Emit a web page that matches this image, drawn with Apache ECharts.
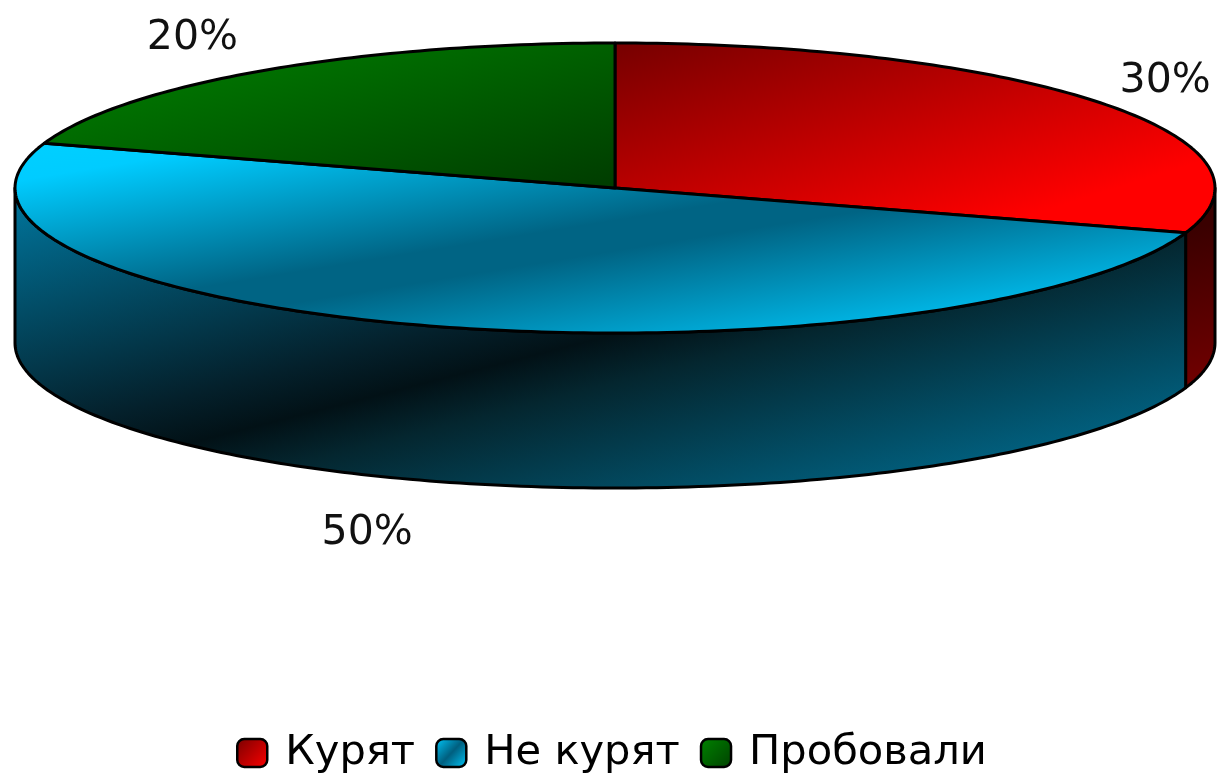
<!DOCTYPE html>
<html><head><meta charset="utf-8">
<style>html,body{margin:0;padding:0;background:#fff}#c{width:1217px;height:780px}</style>
<script src="https://cdn.jsdelivr.net/npm/echarts@6/dist/echarts.min.js"></script>
</head><body><div id="c"></div>
<script>
const categories = ['Курят', 'Не курят', 'Пробовали'];
const shares = [30, 50, 20];
const labels = ['30%', '50%', '20%'];

const total = shares.reduce((a, b) => a + b, 0);
const disc = { cx: 615, cy: 188, rx: 600, ry: 145, depth: 155 };
const labelReach = [[680, 182], [802, 363], [719, 185]];
const G = (x, y, x2, y2, stops) => new echarts.graphic.LinearGradient(x, y, x2, y2,
  stops.map(c => ({ offset: c[0], color: c[1] })), true);
const topFill = [
  G(615, 43, 724, 388, [[0, '#760000'], [0.8, '#ff0000'], [1, '#ff0000']]),
  G(15, 143, 75, 513, [[0, '#00d0ff'], [0.1, '#00ccff'], [0.46, '#006484'], [0.54, '#006484'], [0.85, '#00b8e8'], [1, '#00ccff']]),
  G(45, 43, 114, 315, [[0, '#008400'], [1, '#003c00']])
];
const sideFill = [
  G(1183, 230, 1215, 385, [[0, '#3a0000'], [1, '#720000']]),
  G(15, 188, 159, 751, [[0, '#0078a0'], [0.42, '#04202b'], [0.5, '#021116'], [0.58, '#04262f'], [1, '#0078a0']]),
  null
];
const legendFill = [
  new echarts.graphic.LinearGradient(0, 0, 1, 1, [{offset:0,color:'#760000'},{offset:1,color:'#ff0000'}]),
  new echarts.graphic.LinearGradient(0, 0, 1, 1, [{offset:0,color:'#00ccff'},{offset:0.5,color:'#005f7f'},{offset:1,color:'#00ccff'}]),
  new echarts.graphic.LinearGradient(0, 0, 1, 1, [{offset:0,color:'#008400'},{offset:1,color:'#004000'}])
];

function pt(deg, drop) {
  const a = deg * Math.PI / 180;
  return [disc.cx + disc.rx * Math.sin(a), disc.cy - disc.ry * Math.cos(a) + (drop || 0)];
}
function arc(from, to, drop) {
  const n = Math.max(2, Math.ceil(Math.abs(to - from)));
  const out = [];
  for (let i = 0; i <= n; i++) out.push(pt(from + (to - from) * i / n, drop));
  return out;
}
function renderSlice(params, api) {
  const i = params.seriesIndex;
  const before = shares.slice(0, i).reduce((a, b) => a + b, 0);
  const start = before / total * 360;
  const end = start + api.value(0) / total * 360;
  const children = [];
  const stroke = { stroke: '#000', lineWidth: 3, lineJoin: 'round' };
  const from = Math.max(start, 90), to = Math.min(end, 270);
  if (from < to && sideFill[i]) {
    children.push({
      type: 'polygon',
      shape: { points: arc(from, to, 0).concat(arc(to, from, disc.depth)) },
      style: Object.assign({ fill: sideFill[i] }, stroke)
    });
  }
  children.push({
    type: 'polygon',
    shape: { points: [[disc.cx, disc.cy]].concat(arc(start, end, 0)) },
    style: Object.assign({ fill: topFill[i] }, stroke)
  });
  const mid = (start + end) / 2 * Math.PI / 180;
  children.push({
    type: 'text',
    style: {
      x: disc.cx + labelReach[i][0] * Math.sin(mid),
      y: disc.cy - labelReach[i][1] * Math.cos(mid),
      text: labels[i], fill: '#111', align: 'center', verticalAlign: 'middle',
      font: '41px "DejaVu Sans"'
    }
  });
  return { type: 'group', children };
}

const chart = echarts.init(document.getElementById('c'), null, { renderer: 'canvas' });
chart.setOption({
  animation: false,
  backgroundColor: '#fff',
  legend: {
    left: 231, top: 727, itemWidth: 30, itemHeight: 28, itemGap: 20, icon: 'roundRect',
    data: categories.map((name, i) => ({
      name, itemStyle: { color: legendFill[i], borderColor: '#000', borderWidth: 2.5 }
    })),
    textStyle: { fontSize: 41.6, fontFamily: '"DejaVu Sans"', color: '#000', padding: [7, 0, 0, 13] }
  },
  series: categories.map((name, i) => ({
    type: 'custom', name, coordinateSystem: 'none', renderItem: renderSlice,
    itemStyle: { color: legendFill[i] }, silent: true,
    data: [[shares[i]]]
  }))
});
</script></body></html>
